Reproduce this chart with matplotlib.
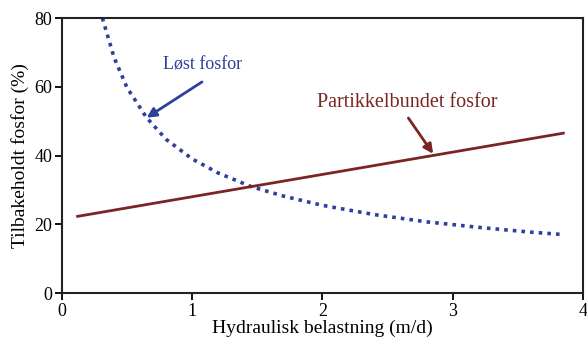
import matplotlib.pyplot as plt

# Dissolved phosphorus retention (dotted curve)
lost_x = [0.31, 0.4, 0.5, 0.65, 0.8, 1.0, 1.2, 1.45, 1.7, 2.0, 2.4, 2.8, 3.2, 3.6, 3.85]
lost_y = [80, 68.5, 59.7, 51, 44.7, 39, 34.9, 31, 28.2, 25.5, 22.8, 20.7, 19.1, 17.7, 17]

# Particle-bound phosphorus retention (straight line)
part_x = [0.12, 3.85]
part_y = [22.3, 46.5]

x_ticks = [0, 1, 2, 3, 4]
y_ticks = [0, 20, 40, 60, 80]

blue = '#2f3f9a'
red = '#7a2424'

plt.rcParams['font.family'] = ['Liberation Serif', 'DejaVu Serif']

fig = plt.figure(figsize=(5.87, 3.45), dpi=100)
ax = fig.add_axes([0.1056, 0.1507, 0.8874, 0.7971])

ax.plot(lost_x, lost_y, color=blue, linewidth=2.6, linestyle=(0, (1, 1.4)),
        dash_capstyle='butt')
ax.plot(part_x, part_y, color=red, linewidth=2.0)

# labels and their arrows
ax.text(1.08, 66.3, 'Løst fosfor', ha='center', va='center',
        fontsize=13, color=blue)
ax.annotate('', xy=(0.65, 51), xytext=(1.075, 61.4),
            arrowprops=dict(arrowstyle='-|>', color=blue, lw=2.0,
                            mutation_scale=14, shrinkA=0, shrinkB=0))
ax.text(2.65, 55.3, 'Partikkelbundet fosfor', ha='center', va='center',
        fontsize=14.5, color=red)
ax.annotate('', xy=(2.85, 40.5), xytext=(2.66, 50.9),
            arrowprops=dict(arrowstyle='-|>', color=red, lw=2.0,
                            mutation_scale=14, shrinkA=0, shrinkB=0))

ax.set_xlim(0, 4)
ax.set_ylim(0, 80)
ax.set_xticks(x_ticks)
ax.set_yticks(y_ticks)
ax.tick_params(direction='out', length=5, width=1.3, labelsize=13, pad=2)
for s in ax.spines.values():
    s.set_linewidth(1.5)
    s.set_color('#222222')

ax.set_xlabel('Hydraulisk belastning (m/d)', fontsize=14, labelpad=0)
ax.set_ylabel('Tilbakeholdt fosfor (%)', fontsize=14, labelpad=4)

fig.savefig('out.png', dpi=100)
